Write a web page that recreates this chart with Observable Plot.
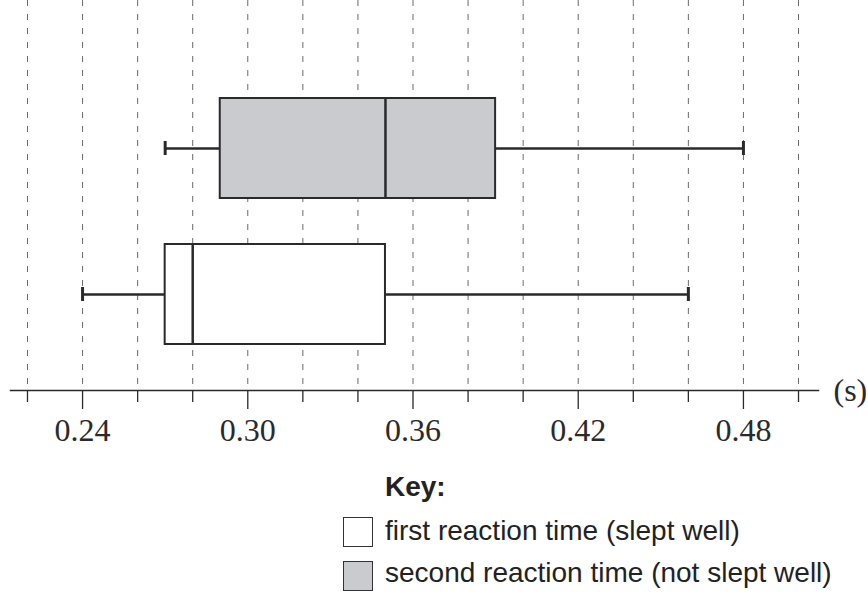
<!DOCTYPE html>
<html>
<head>
<meta charset="utf-8">
<script src="https://cdn.jsdelivr.net/npm/d3@7"></script>
<script src="https://cdn.jsdelivr.net/npm/@observablehq/plot@0.6"></script>
<style>
  html, body { margin: 0; padding: 0; background: #fff; }
  #wrap { position: relative; width: 868px; height: 594px; overflow: hidden; background: #fff; }
  #chart svg { display: block; }
  .key { position: absolute; left: 385px; font-family: "Liberation Sans", Arial, sans-serif; color: #222; white-space: nowrap; }
  .keytitle { top: 471px; font-size: 28px; font-weight: bold; line-height: 32px; }
  .sw { position: absolute; left: 343px; width: 28px; height: 28px; border: 1.5px solid #333; }
  .lab { font-size: 28px; line-height: 32px; }
</style>
</head>
<body>
<div id="wrap">
  <div id="chart"></div>
</div>
<script>
// Five-number summaries (seconds)
const groups   = ["second", "first"];
const labels   = ["second reaction time (not slept well)", "first reaction time (slept well)"];
const minVals  = [0.27, 0.24];
const q1Vals   = [0.29, 0.27];
const medVals  = [0.35, 0.28];
const q3Vals   = [0.39, 0.35];
const maxVals  = [0.48, 0.46];

const gridTicks  = [0.22, 0.24, 0.26, 0.28, 0.30, 0.32, 0.34, 0.36, 0.38, 0.40, 0.42, 0.44, 0.46, 0.48, 0.50];
const majorTicks = [0.24, 0.30, 0.36, 0.42, 0.48];
const minorTicks = [0.22, 0.26, 0.28, 0.32, 0.34, 0.38, 0.40, 0.44, 0.46, 0.50];
const axisUnit = "(s)";

const data = groups.map((g, i) => ({
  group: g, label: labels[i],
  min: minVals[i], q1: q1Vals[i], median: medVals[i], q3: q3Vals[i], max: maxVals[i]
}));

const boxFill = {second: "#c9cbce", first: "#ffffff"};
const ink = "#2a2a2a";

const plot = Plot.plot({
  width: 868,
  height: 455,
  marginLeft: 10,
  marginRight: 50,
  marginTop: 0,
  marginBottom: 65,
  style: {fontFamily: "'Liberation Serif', 'Times New Roman', serif", fontSize: "32px", background: "white", overflow: "visible", color: ink},
  x: {domain: [0.21383, 0.50726], axis: null, label: null},
  y: {domain: groups, axis: null, label: null, paddingInner: 0.315, paddingOuter: 0.493, align: 0.68},
  marks: [
    Plot.ruleX(gridTicks, {stroke: "#6a6a6a", strokeWidth: 1, strokeDasharray: "6,8"}),
    Plot.ruleY(data, {y: "group", x1: "min", x2: "q1", stroke: ink, strokeWidth: 2.5}),
    Plot.ruleY(data, {y: "group", x1: "q3", x2: "max", stroke: ink, strokeWidth: 2.5}),
    Plot.tickX(data, {x: "min", y: "group", stroke: ink, strokeWidth: 3, insetTop: 43, insetBottom: 43}),
    Plot.tickX(data, {x: "max", y: "group", stroke: ink, strokeWidth: 3, insetTop: 43, insetBottom: 43}),
    Plot.barX(data, {x1: "q1", x2: "q3", y: "group", fill: d => boxFill[d.group], stroke: ink, strokeWidth: 2}),
    Plot.tickX(data, {x: "median", y: "group", stroke: ink, strokeWidth: 2.5}),
    Plot.frame({anchor: "bottom", stroke: ink, strokeWidth: 1.5}),
    Plot.axisX(minorTicks, {tickSize: 12, tickFormat: () => "", stroke: ink, strokeWidth: 1.3, label: null}),
    Plot.axisX(majorTicks, {tickSize: 19, tickPadding: 9, tickFormat: d => d.toFixed(2), stroke: ink, strokeWidth: 1.3, fill: ink, fontSize: 32, label: null}),
    Plot.text([axisUnit], {frameAnchor: "bottom-right", text: d => d, dx: 15, textAnchor: "start", lineAnchor: "middle", fontSize: 32, fill: ink})
  ]
});
document.getElementById("chart").appendChild(plot);

// Legend (key) below the chart
const wrap = document.getElementById("wrap");
const title = document.createElement("div");
title.className = "key keytitle";
title.textContent = "Key:";
wrap.appendChild(title);

const legendOrder = [1, 0];
const swTops = [517, 561];
const labTops = [515, 557];
legendOrder.forEach((gi, r) => {
  const sw = document.createElement("div");
  sw.className = "sw";
  sw.style.top = swTops[r] + "px";
  sw.style.background = boxFill[groups[gi]];
  wrap.appendChild(sw);
  const lab = document.createElement("div");
  lab.className = "key lab";
  lab.style.top = labTops[r] + "px";
  lab.textContent = labels[gi];
  wrap.appendChild(lab);
});
</script>
</body>
</html>
